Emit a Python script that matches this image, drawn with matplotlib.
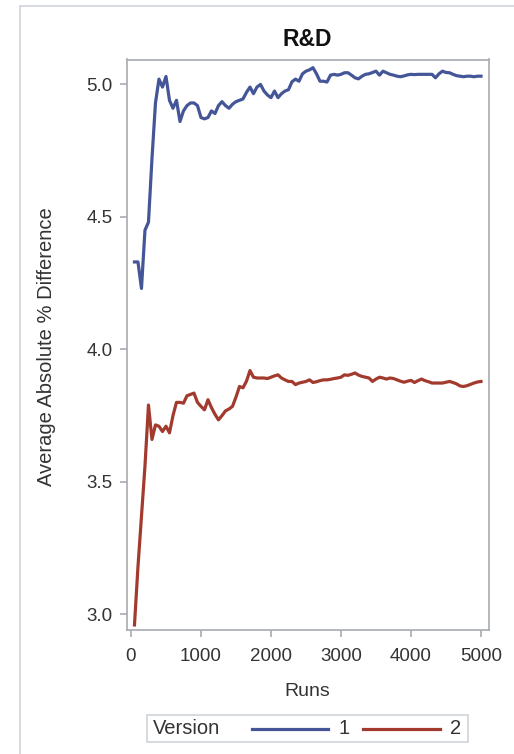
import matplotlib
matplotlib.use("Agg")
import matplotlib.pyplot as plt
from matplotlib.patches import Rectangle
from matplotlib.lines import Line2D

plt.rcParams['font.family'] = ['Liberation Sans', 'DejaVu Sans']

# runs sampled every 50
runs = list(range(50, 5001, 50))

version1 = [
    4.33, 4.33, 4.23, 4.45, 4.48, 4.72, 4.93, 5.02, 4.99, 5.03,
    4.94, 4.91, 4.94, 4.86, 4.90, 4.92, 4.93, 4.93, 4.92, 4.875,
    4.87, 4.875, 4.90, 4.89, 4.92, 4.935, 4.92, 4.91, 4.925, 4.935,
    4.94, 4.945, 4.97, 4.99, 4.965, 4.99, 5.00, 4.975, 4.96, 4.95,
    4.975, 4.95, 4.965, 4.975, 4.98, 5.01, 5.02, 5.012, 5.04, 5.05,
    5.055, 5.063, 5.04, 5.012, 5.012, 5.009, 5.035, 5.038, 5.035, 5.038,
    5.044, 5.044, 5.035, 5.025, 5.021, 5.031, 5.038, 5.04, 5.045, 5.05,
    5.035, 5.05, 5.044, 5.038, 5.035, 5.031, 5.029, 5.032, 5.036, 5.038,
    5.037, 5.038, 5.038, 5.038, 5.038, 5.038, 5.025, 5.04, 5.05, 5.045,
    5.044, 5.038, 5.033, 5.031, 5.029, 5.031, 5.031, 5.029, 5.031, 5.031,
]

version2 = [
    2.96, 3.18, 3.37, 3.56, 3.79, 3.66, 3.715, 3.71, 3.69, 3.71,
    3.685, 3.75, 3.80, 3.80, 3.797, 3.825, 3.83, 3.835, 3.80, 3.785,
    3.772, 3.81, 3.78, 3.755, 3.734, 3.75, 3.768, 3.775, 3.785, 3.82,
    3.86, 3.855, 3.88, 3.92, 3.895, 3.892, 3.892, 3.892, 3.89, 3.895,
    3.90, 3.904, 3.892, 3.885, 3.879, 3.879, 3.867, 3.873, 3.876, 3.879,
    3.885, 3.875, 3.878, 3.882, 3.885, 3.885, 3.887, 3.89, 3.892, 3.895,
    3.904, 3.902, 3.906, 3.911, 3.903, 3.898, 3.895, 3.892, 3.879, 3.888,
    3.895, 3.892, 3.888, 3.892, 3.89, 3.885, 3.88, 3.876, 3.88, 3.883,
    3.875, 3.882, 3.888, 3.882, 3.878, 3.873, 3.873, 3.873, 3.873, 3.876,
    3.879, 3.875, 3.87, 3.862, 3.86, 3.863, 3.868, 3.873, 3.877, 3.879,
]

series_labels = ['1', '2']
colors = ['#445697', '#a23a2e']
x_ticks = [0, 1000, 2000, 3000, 4000, 5000]
y_ticks = [3.0, 3.5, 4.0, 4.5, 5.0]

W, H = 514, 754
fig = plt.figure(figsize=(W / 100, H / 100), dpi=100)
fig.patch.set_facecolor('white')

# outer frame of the screenshot
fig.add_artist(Rectangle((19.5 / W, -0.1), 1.2, (H - 6.5) / H + 0.1,
                         transform=fig.transFigure, facecolor='none',
                         edgecolor='#cfd3d8', lw=1.2))

left, right, top, bottom = 126.7, 488.7, 59.5, 630
ax = fig.add_axes([left / W, 1 - bottom / H, (right - left) / W, (bottom - top) / H])

ax.plot(runs, version1, color=colors[0], lw=2.3, solid_joinstyle='round')
ax.plot(runs, version2, color=colors[1], lw=2.3, solid_joinstyle='round')

ax.set_xlim(-61, 5110)
ax.set_ylim(2.941, 5.094)
ax.set_xticks(x_ticks)
ax.set_yticks(y_ticks)
ax.set_yticklabels([f'{v:.1f}' for v in y_ticks])

for s in ax.spines.values():
    s.set_color('#a7abb0')
    s.set_linewidth(1.2)
ax.tick_params(colors='#a7abb0', labelcolor='#333333', length=5, width=1.2,
               labelsize=13.5)
ax.tick_params(axis='x', pad=8)
ax.tick_params(axis='y', pad=5)

ax.set_title('R&D', fontsize=16.5, fontweight='bold', color='#111111', pad=10)
ax.set_xlabel('Runs', fontsize=14, color='#333333', labelpad=13)
fig.text(47 / W, 1 - 347 / H, 'Average Absolute % Difference', rotation=90,
         ha='center', va='center', fontsize=14.5, color='#333333')

# legend box
lx0, lx1, ly0, ly1 = 146.7, 468.3, 715, 741.5
fig.add_artist(Rectangle((lx0 / W, 1 - ly1 / H), (lx1 - lx0) / W, (ly1 - ly0) / H,
                         transform=fig.transFigure, facecolor='white',
                         edgecolor='#cfd3d8', lw=1.2))
ly = 1 - 728.5 / H
fig.text(153 / W, ly, 'Version', ha='left', va='center', fontsize=14.5, color='#333333')
segs = [(251.7, 328, 338), (363, 440, 450)]
for (a, b, t), c, lab in zip(segs, colors, series_labels):
    fig.add_artist(Line2D([a / W, b / W], [ly, ly], transform=fig.transFigure,
                          color=c, lw=2.3))
    fig.text(t / W, ly, lab, ha='left', va='center', fontsize=14.5, color='#333333')

fig.savefig('out.png', dpi=100)
